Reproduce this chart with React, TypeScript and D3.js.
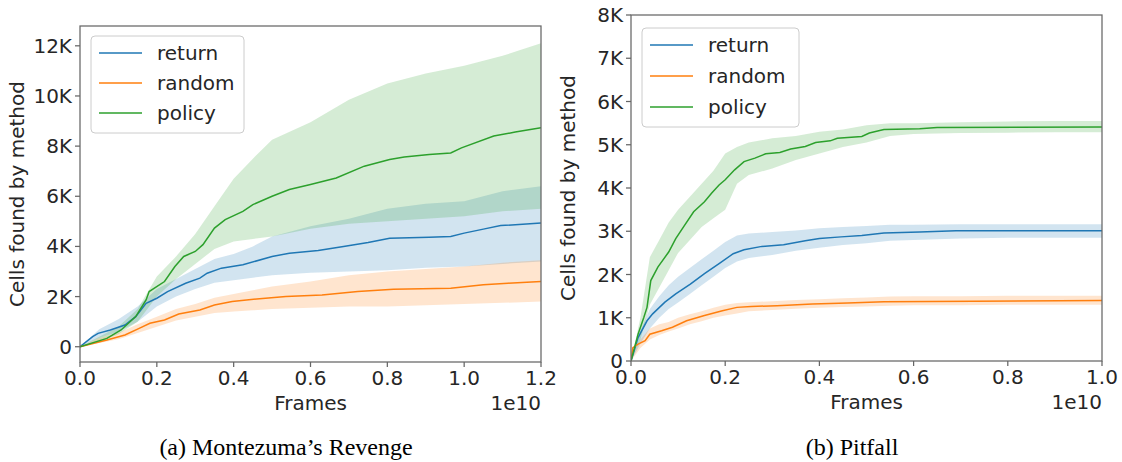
import * as d3 from "d3";

// Montezuma's Revenge (x in units of 1e10 frames)
const mzBandX = [0, 0.05, 0.1, 0.15, 0.2, 0.25, 0.3, 0.35, 0.4, 0.45, 0.5, 0.6, 0.7, 0.8, 0.9, 1.0, 1.1, 1.2];
const mzReturnUp = [0, 700, 1100, 1600, 2300, 2700, 3100, 3500, 3700, 4000, 4400, 4800, 5100, 5500, 5700, 5800, 6200, 6400];
const mzReturnLo = [0, 350, 600, 1000, 1600, 2000, 2300, 2550, 2650, 2750, 2850, 2950, 3000, 3050, 3150, 3200, 3300, 3400];
const mzRandomUp = [0, 350, 550, 900, 1200, 1500, 1700, 1950, 2100, 2250, 2400, 2600, 2850, 3000, 3100, 3200, 3350, 3450];
const mzRandomLo = [0, 150, 300, 550, 800, 1050, 1200, 1350, 1400, 1450, 1500, 1550, 1600, 1600, 1650, 1700, 1750, 1800];
const mzPolicyUp = [0, 400, 800, 1500, 2800, 3600, 4500, 5600, 6700, 7500, 8250, 8950, 9850, 10500, 10900, 11200, 11600, 12100];
const mzPolicyLo = [0, 200, 500, 1000, 2000, 2700, 3300, 3900, 4200, 4300, 4400, 4700, 4900, 5000, 5100, 5200, 5400, 5500];

const mzReturnX = [0, 0.033, 0.047, 0.079, 0.117, 0.145, 0.172, 0.2, 0.228, 0.275, 0.312, 0.331, 0.368, 0.424, 0.5, 0.545, 0.62, 0.686, 0.75, 0.806, 0.909, 0.965, 1.0, 1.05, 1.095, 1.2];
const mzReturnY = [0, 400, 533, 667, 867, 1200, 1733, 1933, 2200, 2533, 2733, 2933, 3133, 3267, 3600, 3730, 3840, 4000, 4160, 4330, 4370, 4400, 4530, 4690, 4830, 4930];
const mzRandomX = [0, 0.07, 0.117, 0.154, 0.182, 0.22, 0.257, 0.312, 0.35, 0.396, 0.46, 0.536, 0.63, 0.723, 0.816, 0.965, 1.05, 1.114, 1.2];
const mzRandomY = [0, 267, 467, 733, 933, 1067, 1307, 1467, 1667, 1800, 1907, 2000, 2067, 2200, 2293, 2333, 2467, 2533, 2600];
const mzPolicyX = [0, 0.07, 0.107, 0.145, 0.172, 0.18, 0.22, 0.247, 0.27, 0.3, 0.32, 0.35, 0.378, 0.424, 0.45, 0.5, 0.545, 0.6, 0.667, 0.74, 0.806, 0.844, 0.909, 0.965, 0.993, 1.077, 1.133, 1.2];
const mzPolicyY = [0, 333, 667, 1200, 1867, 2200, 2600, 3200, 3600, 3800, 4070, 4730, 5070, 5400, 5670, 6000, 6270, 6470, 6730, 7200, 7470, 7570, 7670, 7730, 7930, 8400, 8560, 8730];

// Pitfall
const pfBandX = [0, 0.02, 0.04, 0.06, 0.08, 0.1, 0.125, 0.15, 0.175, 0.2, 0.225, 0.25, 0.3, 0.35, 0.4, 0.45, 0.5, 0.55, 0.6, 0.7, 0.8, 0.9, 1.0];
const pfReturnUp = [0, 700, 1200, 1500, 1750, 1950, 2150, 2350, 2550, 2750, 2900, 2950, 2980, 3020, 3070, 3100, 3120, 3150, 3150, 3160, 3160, 3160, 3160];
const pfReturnLo = [0, 400, 750, 1000, 1200, 1350, 1550, 1750, 1950, 2150, 2300, 2380, 2450, 2550, 2620, 2680, 2720, 2780, 2800, 2830, 2850, 2850, 2850];
const pfRandomUp = [0, 500, 750, 850, 900, 1000, 1080, 1150, 1230, 1300, 1340, 1360, 1380, 1410, 1430, 1450, 1470, 1490, 1500, 1500, 1510, 1510, 1510];
const pfRandomLo = [0, 300, 500, 600, 680, 750, 850, 920, 1000, 1050, 1100, 1150, 1180, 1210, 1230, 1250, 1260, 1280, 1290, 1290, 1300, 1300, 1300];
const pfPolicyUp = [0, 1000, 2400, 2800, 3200, 3500, 3800, 4100, 4400, 4800, 4950, 5050, 5150, 5200, 5300, 5350, 5450, 5500, 5500, 5520, 5540, 5550, 5550];
const pfPolicyLo = [0, 500, 1300, 1700, 2100, 2500, 2800, 3100, 3300, 3500, 4100, 4300, 4450, 4650, 4800, 4950, 5050, 5200, 5250, 5270, 5280, 5290, 5290];

const pfReturnX = [0, 0.015, 0.034, 0.046, 0.072, 0.095, 0.126, 0.156, 0.187, 0.217, 0.24, 0.278, 0.324, 0.37, 0.4, 0.446, 0.49, 0.537, 0.613, 0.69, 1.0];
const pfReturnY = [0, 540, 930, 1090, 1360, 1550, 1780, 2020, 2250, 2480, 2570, 2650, 2690, 2780, 2830, 2870, 2900, 2960, 2980, 3010, 3010];
const pfRandomX = [0, 0.004, 0.015, 0.03, 0.04, 0.065, 0.088, 0.118, 0.156, 0.194, 0.225, 0.255, 0.31, 0.385, 0.46, 0.537, 1.0];
const pfRandomY = [0, 310, 390, 470, 620, 700, 780, 930, 1050, 1160, 1240, 1260, 1280, 1320, 1340, 1370, 1400];
const pfPolicyX = [0, 0.015, 0.027, 0.034, 0.042, 0.057, 0.08, 0.095, 0.114, 0.133, 0.156, 0.171, 0.187, 0.2, 0.22, 0.24, 0.263, 0.286, 0.316, 0.339, 0.37, 0.392, 0.423, 0.438, 0.49, 0.506, 0.537, 0.613, 0.65, 1.0];
const pfPolicyY = [0, 620, 1000, 1240, 1860, 2170, 2520, 2830, 3140, 3450, 3680, 3880, 4070, 4190, 4420, 4610, 4690, 4790, 4820, 4900, 4960, 5050, 5090, 5150, 5190, 5270, 5350, 5370, 5400, 5410];

const seriesNames = ["return", "random", "policy"];
const colors = ["#1f77b4", "#ff7f0e", "#2ca02c"];

const mzYTicks = [0, 2000, 4000, 6000, 8000, 10000, 12000];
const mzXTicks = [0, 0.2, 0.4, 0.6, 0.8, 1.0, 1.2];
const pfYTicks = [0, 1000, 2000, 3000, 4000, 5000, 6000, 7000, 8000];
const pfXTicks = [0, 0.2, 0.4, 0.6, 0.8, 1.0];

const FONT = "DejaVu Sans, sans-serif";
const TEXT = "#262626";
const SPINE = "#666";

type Band = { x: number[]; up: number[]; lo: number[] };
type Line = { x: number[]; y: number[] };

function Panel(props: {
  left: number; right: number; top: number; bottom: number;
  xDomain: [number, number]; yDomain: [number, number];
  xTicks: number[]; yTicks: number[];
  bands: Band[]; lines: Line[];
  legend: { x: number; y: number; w: number; h: number; step: number };
}) {
  const { left, right, top, bottom, bands, lines, legend } = props;
  const x = d3.scaleLinear().domain(props.xDomain).range([left, right]);
  const y = d3.scaleLinear().domain(props.yDomain).range([bottom, top]);
  const area = (b: Band) =>
    d3.area<number>()
      .x((_, i) => x(b.x[i]))
      .y0((_, i) => y(b.lo[i]))
      .y1((d) => y(d))(b.up) || "";
  const line = (l: Line) =>
    d3.line<number>()
      .x((_, i) => x(l.x[i]))
      .y((d) => y(d))(l.y) || "";
  const clipId = `clip-${left}`;
  return (
    <g>
      <defs>
        <clipPath id={clipId}>
          <rect x={left} y={top} width={right - left} height={bottom - top} />
        </clipPath>
      </defs>
      <g clipPath={`url(#${clipId})`}>
        {bands.map((b, i) => (
          <path key={i} d={area(b)} fill={colors[i]} fillOpacity={0.2} stroke="none" />
        ))}
        {lines.map((l, i) => (
          <path key={i} d={line(l)} fill="none" stroke={colors[i]} strokeWidth={1.5} />
        ))}
      </g>
      <rect x={left} y={top} width={right - left} height={bottom - top} fill="none" stroke={SPINE} strokeWidth={1.25} />
      {props.yTicks.map((t) => (
        <g key={t}>
          <line x1={left - 5} x2={left} y1={y(t)} y2={y(t)} stroke={SPINE} strokeWidth={1.25} />
          <text x={left - 8} y={y(t) + 7} textAnchor="end" fontSize={20} fontFamily={FONT} fill={TEXT}>
            {t === 0 ? "0" : `${t / 1000}K`}
          </text>
        </g>
      ))}
      {props.xTicks.map((t) => (
        <g key={t}>
          <line x1={x(t)} x2={x(t)} y1={bottom} y2={bottom + 5} stroke={SPINE} strokeWidth={1.25} />
          <text x={x(t)} y={bottom + 23} textAnchor="middle" fontSize={20} fontFamily={FONT} fill={TEXT}>
            {t.toFixed(1)}
          </text>
        </g>
      ))}
      <text x={(left + right) / 2} y={bottom + 48} textAnchor="middle" fontSize={20} fontFamily={FONT} fill={TEXT}>
        Frames
      </text>
      <text x={right} y={bottom + 48} textAnchor="end" fontSize={20} fontFamily={FONT} fill={TEXT}>
        1e10
      </text>
      <text
        transform={`translate(${left - 56},${(top + bottom) / 2}) rotate(-90)`}
        textAnchor="middle" fontSize={20} fontFamily={FONT} fill={TEXT}
      >
        Cells found by method
      </text>
      <rect x={legend.x} y={legend.y} width={legend.w} height={legend.h} rx={4}
        fill="white" fillOpacity={0.8} stroke="#cccccc" strokeWidth={1} />
      {seriesNames.map((n, i) => {
        const ly = legend.y + 17 + i * legend.step;
        return (
          <g key={n}>
            <line x1={legend.x + 8} x2={legend.x + 51} y1={ly} y2={ly} stroke={colors[i]} strokeWidth={1.5} />
            <text x={legend.x + 66} y={ly + 7} fontSize={20} fontFamily={FONT} fill={TEXT}>{n}</text>
          </g>
        );
      })}
    </g>
  );
}

export default function App() {
  return (
    <svg width={1122} height={462} style={{ position: "absolute", left: 0, top: 0, background: "white" }}>
      <Panel
        left={80} right={541} top={26} bottom={362}
        xDomain={[0, 1.2]} yDomain={[-609, 12790]}
        xTicks={mzXTicks} yTicks={mzYTicks}
        bands={[
          { x: mzBandX, up: mzReturnUp, lo: mzReturnLo },
          { x: mzBandX, up: mzRandomUp, lo: mzRandomLo },
          { x: mzBandX, up: mzPolicyUp, lo: mzPolicyLo },
        ]}
        lines={[
          { x: mzReturnX, y: mzReturnY },
          { x: mzRandomX, y: mzRandomY },
          { x: mzPolicyX, y: mzPolicyY },
        ]}
        legend={{ x: 91, y: 36, w: 153, h: 97, step: 30 }}
      />
      <Panel
        left={631} right={1102} top={15} bottom={361}
        xDomain={[0, 1.0]} yDomain={[0, 8000]}
        xTicks={pfXTicks} yTicks={pfYTicks}
        bands={[
          { x: pfBandX, up: pfReturnUp, lo: pfReturnLo },
          { x: pfBandX, up: pfRandomUp, lo: pfRandomLo },
          { x: pfBandX, up: pfPolicyUp, lo: pfPolicyLo },
        ]}
        lines={[
          { x: pfReturnX, y: pfReturnY },
          { x: pfRandomX, y: pfRandomY },
          { x: pfPolicyX, y: pfPolicyY },
        ]}
        legend={{ x: 642, y: 28, w: 157, h: 99, step: 31 }}
      />
      <text x={286} y={455} textAnchor="middle" fontSize={24} fontFamily="Liberation Serif, serif" fill="#000">
        (a) Montezuma’s Revenge
      </text>
      <text x={852} y={455} textAnchor="middle" fontSize={24} fontFamily="Liberation Serif, serif" fill="#000">
        (b) Pitfall
      </text>
    </svg>
  );
}
